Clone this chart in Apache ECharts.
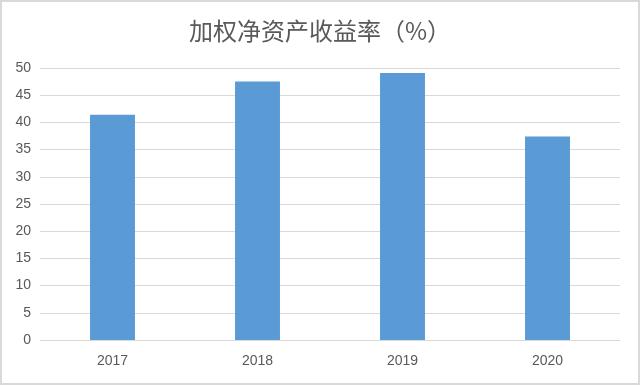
<!DOCTYPE html>
<html><head><meta charset="utf-8">
<script src="https://cdn.jsdelivr.net/npm/echarts@6/dist/echarts.min.js"></script>
<style>html,body{margin:0;padding:0;background:#fff}#c{width:640px;height:385px;box-sizing:border-box;border:2px solid #d9d9d9}</style>
</head><body><div id="c"></div>
<script>
var titleText = '加权净资产收益率（%）';
var categories = ['2017', '2018', '2019', '2020'];
var values = [41.4, 47.5, 49.1, 37.4];
var yTicks = {min: 0, max: 50, interval: 5};

var chart = echarts.init(document.getElementById('c'), null, {renderer: 'canvas'});
chart.setOption({
  animation: false,
  title: {
    text: titleText, left: 'center', top: 12,
    textStyle: {fontFamily: 'Noto Sans CJK SC', fontSize: 24, fontWeight: 'normal', color: '#595959'}
  },
  grid: {left: 38, right: 18, top: 66, bottom: 43, containLabel: false},
  xAxis: {
    type: 'category', data: categories,
    axisLine: {lineStyle: {color: '#d9d9d9', width: 1}},
    axisTick: {show: false},
    axisLabel: {color: '#595959', fontSize: 14, fontFamily: 'Liberation Sans', margin: 14}
  },
  yAxis: {
    type: 'value', min: yTicks.min, max: yTicks.max, interval: yTicks.interval,
    axisLine: {show: false}, axisTick: {show: false},
    splitLine: {lineStyle: {color: '#d9d9d9', width: 1}},
    axisLabel: {color: '#595959', fontSize: 14, fontFamily: 'Liberation Sans', margin: 9}
  },
  series: [{
    type: 'bar', data: values, barWidth: '31%',
    itemStyle: {color: '#5b9bd5'}
  }]
});
</script></body></html>
